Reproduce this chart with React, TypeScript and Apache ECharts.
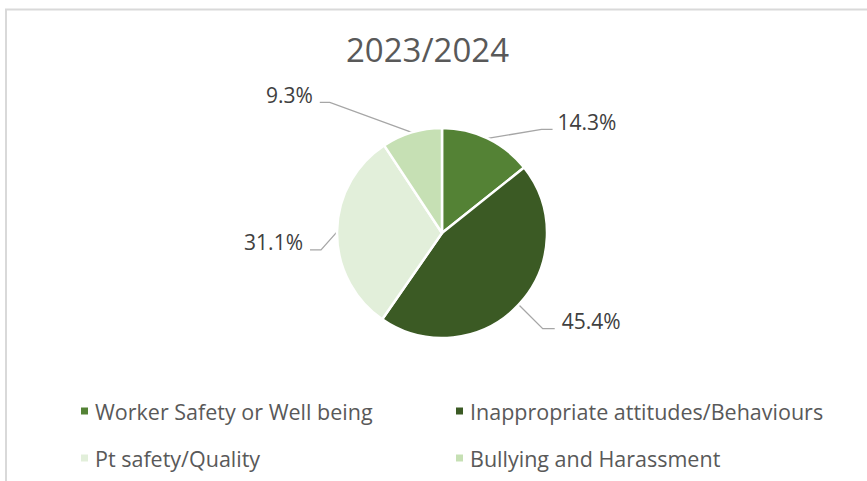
import React, { useEffect, useRef } from "react";
import * as echarts from "echarts";

const categories = [
  "Worker Safety or Well being",
  "Inappropriate attitudes/Behaviours",
  "Pt safety/Quality",
  "Bullying and Harassment",
];
const values = [14.3, 45.4, 31.1, 9.3];
const colors = ["#548235", "#3B5A24", "#E2EFDA", "#C6E0B4"];
const title = "2023/2024";

// leader line layout: [elbow dx, elbow dy, horizontal run, label dx, label dy]
const leader = [
  [54, -9, 11, 5, -7],
  [24, 24, 12, 7, -8],
  [-16, 18, -11, -7, -8],
  [-82, -30, -10, -7, -7],
];

const FONT = "'Open Sans', sans-serif";

export default function App() {
  const ref = useRef<HTMLDivElement>(null);
  useEffect(() => {
    if (!ref.current) return;
    const chart = echarts.init(ref.current, undefined, { renderer: "svg" });
    const data = categories.map((name, i) => ({
      name,
      value: values[i],
      itemStyle: { color: colors[i] },
    }));
    const legendCommon = {
      orient: "vertical",
      top: 399,
      padding: 0,
      itemWidth: 7,
      itemHeight: 7,
      itemGap: 23,
      icon: "rect",
      itemStyle: { borderWidth: 0 },
      textStyle: { fontFamily: FONT, fontSize: 21.5, color: "#595959", lineHeight: 24, padding: [0, 0, 0, 2] },
    };
    chart.setOption({
      animation: false,
      backgroundColor: "#ffffff",
      graphic: [
        {
          type: "rect",
          shape: { x: 6, y: 9.5, width: 920, height: 520 },
          style: { fill: "none", stroke: "#d9d9d9", lineWidth: 2 },
          silent: true,
        },
      ],
      title: {
        text: title,
        left: 427.5,
        textAlign: "center",
        top: 33,
        padding: 0,
        textStyle: {
          fontFamily: FONT,
          fontSize: 33,
          fontWeight: "normal",
          color: "#595959",
        },
      },
      legend: [
        { ...legendCommon, left: 81, data: [categories[0], categories[2]] },
        { ...legendCommon, left: 456, data: [categories[1], categories[3]] },
      ],
      series: [
        {
          type: "pie",
          center: [442, 233],
          radius: 105,
          startAngle: 90,
          clockwise: true,
          data,
          itemStyle: { borderColor: "#ffffff", borderWidth: 2.5 },
          label: {
            show: true,
            formatter: (p: any) => p.value.toFixed(1) + "%",
            fontFamily: FONT,
            fontSize: 21,
            color: "#404040",
          },
          labelLine: {
            show: true,
            length: 15,
            length2: 10,
            lineStyle: { color: "#a6a6a6", width: 1.3 },
          },
          labelLayout: (params: any) => {
            const i = params.dataIndex;
            const pts = params.labelLinePoints;
            if (!pts) return {};
            const p0 = pts[0];
            const [ex, ey, run, ldx, ldy] = leader[i];
            const p1 = [p0[0] + ex, p0[1] + ey];
            const p2 = [p1[0] + run, p1[1]];
            return {
              x: p2[0] + ldx,
              y: p2[1] + ldy,
              align: run > 0 ? "left" : "right",
              verticalAlign: "middle",
              labelLinePoints: [p0, p1, p2],
            };
          },
        },
      ],
    });
    return () => chart.dispose();
  }, []);
  return (
    <div
      ref={ref}
      style={{ position: "fixed", left: 0, top: 0, width: 867, height: 481 }}
    />
  );
}
